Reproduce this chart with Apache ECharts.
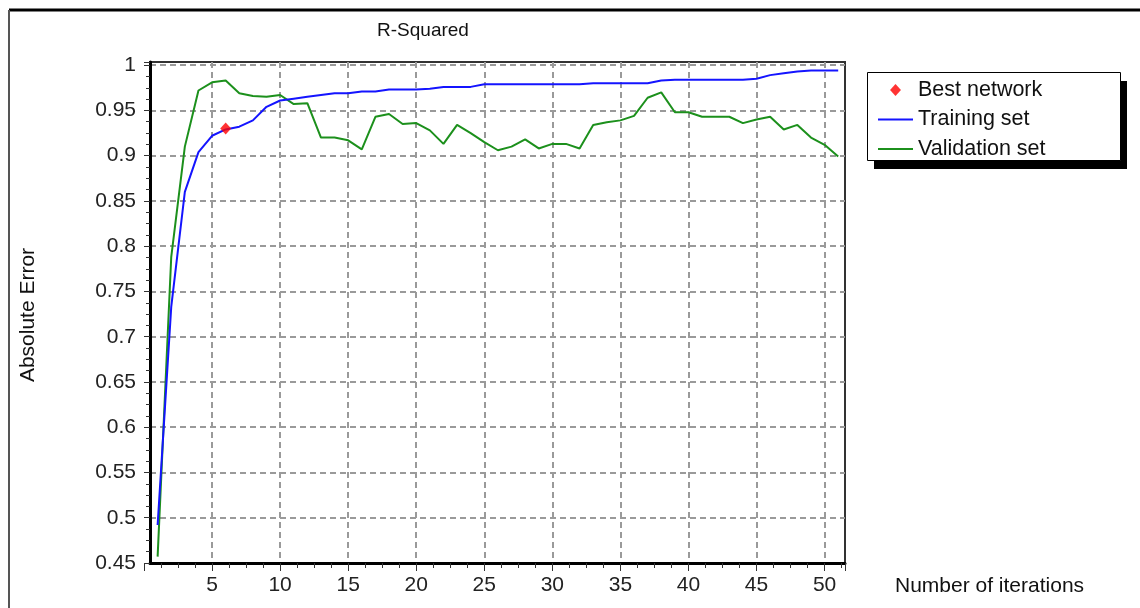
<!DOCTYPE html>
<html>
<head>
<meta charset="UTF-8">
<title>R-Squared</title>
<script src="https://cdn.jsdelivr.net/npm/echarts@6/dist/echarts.min.js"></script>
<style>
  html, body { margin: 0; padding: 0; background: #fff; }
  #chart { width: 1140px; height: 608px; }
</style>
</head>
<body>
<div id="chart"></div>
<script>
// iterations on the x axis
var iterations = [1, 2, 3, 4, 5, 6, 7, 8, 9, 10, 11, 12, 13, 14, 15, 16, 17, 18, 19, 20,
  21, 22, 23, 24, 25, 26, 27, 28, 29, 30, 31, 32, 33, 34, 35, 36, 37, 38, 39, 40,
  41, 42, 43, 44, 45, 46, 47, 48, 49, 50, 51];

// R-squared per iteration
var trainingSet = [0.492, 0.733, 0.860, 0.904, 0.922, 0.929, 0.932, 0.939, 0.954, 0.961,
  0.963, 0.965, 0.967, 0.969, 0.969, 0.971, 0.971, 0.973, 0.973, 0.973,
  0.974, 0.976, 0.976, 0.976, 0.979, 0.979, 0.979, 0.979, 0.979, 0.979,
  0.979, 0.979, 0.980, 0.980, 0.980, 0.980, 0.980, 0.983, 0.984, 0.984,
  0.984, 0.984, 0.984, 0.984, 0.985, 0.989, 0.991, 0.993, 0.994, 0.994, 0.994];

var validationSet = [0.457, 0.788, 0.910, 0.972, 0.981, 0.983, 0.969, 0.966, 0.965, 0.967,
  0.957, 0.958, 0.920, 0.920, 0.917, 0.907, 0.943, 0.946, 0.935, 0.936,
  0.928, 0.913, 0.934, 0.925, 0.915, 0.906, 0.910, 0.918, 0.908, 0.913,
  0.913, 0.908, 0.934, 0.937, 0.939, 0.944, 0.964, 0.970, 0.948, 0.948,
  0.943, 0.943, 0.943, 0.936, 0.940, 0.943, 0.929, 0.934, 0.920, 0.912, 0.899];

var bestIteration = 6;
var bestValue = 0.930;

var font = 'Liberation Sans, Arial, sans-serif';

var myChart = echarts.init(document.getElementById('chart'));

function pairs(values) {
  var out = [];
  for (var i = 0; i < iterations.length; i++) {
    out.push([iterations[i], values[i]]);
  }
  return out;
}

var gridLine = { color: '#9a9a9a', type: [6, 4], width: 2 };
// legend icons: a flat bar for the lines, a diamond for the best network
var lineIcon = 'path://M0,0h35v2h-35z';
var diamondIcon = 'path://M5,0L10,5.5L5,11L0,5.5Z';

myChart.setOption({
  animation: false,
  backgroundColor: '#fff',
  grid: [
    { left: 150, right: 295, top: 62, bottom: 45, show: true, borderColor: '#333', borderWidth: 2, backgroundColor: 'transparent' },
    { left: 144, right: 295, top: 62, bottom: 45 }
  ],
  xAxis: [
    {
      gridIndex: 0, type: 'value', min: 0.44, max: 51.5,
      axisLine: { lineStyle: { color: '#000', width: 3 } },
      axisTick: { show: false }, axisLabel: { show: false }, splitLine: { show: false }
    },
    {
      gridIndex: 1, type: 'value', min: 0, max: 51.5, interval: 5,
      axisLine: { show: false },
      axisTick: { length: 8, lineStyle: { color: '#333', width: 1 } },
      minorTick: { show: true, splitNumber: 4, length: 5, lineStyle: { color: '#333', width: 1 } },
      axisLabel: { margin: 12, fontSize: 21, fontFamily: font, color: '#222', showMinLabel: false, showMaxLabel: false },
      splitLine: { show: true, showMinLine: false, showMaxLine: false, lineStyle: gridLine }
    }
  ],
  yAxis: [
    {
      gridIndex: 0, type: 'value', min: 0.45, max: 1.0035, interval: 0.05,
      axisLine: { show: true, lineStyle: { color: '#000', width: 3 } },
      axisTick: { length: 6, lineStyle: { color: '#333', width: 1 } },
      minorTick: { show: true, splitNumber: 4, length: 4, lineStyle: { color: '#333', width: 1 } },
      axisLabel: { margin: 14, fontSize: 21, fontFamily: font, color: '#222', showMaxLabel: false },
      splitLine: { show: true, showMinLine: false, showMaxLine: false, lineStyle: gridLine }
    },
    { gridIndex: 1, type: 'value', min: 0.45, max: 1.0035, show: false }
  ],
  legend: {
    orient: 'vertical', left: 878, top: 79, z: 10, padding: 0,
    itemWidth: 35, itemHeight: 12, itemGap: 7.5,
    textStyle: { fontSize: 21.5, fontFamily: font, color: '#111', lineHeight: 22 },
    data: [
      { name: 'Best network', icon: diamondIcon },
      { name: 'Training set', icon: lineIcon },
      { name: 'Validation set', icon: lineIcon }
    ]
  },
  graphic: [
    { type: 'line', z: 0, shape: { x1: 9, y1: 10, x2: 1140, y2: 10 }, style: { stroke: '#000', lineWidth: 3 } },
    { type: 'line', z: 0, shape: { x1: 9, y1: 10, x2: 9, y2: 608 }, style: { stroke: '#555', lineWidth: 2 } },
    { type: 'rect', z: 1, shape: { x: 874, y: 81, width: 253, height: 88 }, style: { fill: '#000' } },
    { type: 'rect', z: 2, shape: { x: 867.5, y: 72.5, width: 253, height: 88 }, style: { fill: '#fff', stroke: '#000', lineWidth: 1 } },
    { type: 'text', x: 423, y: 31, style: { text: 'R-Squared', fontSize: 19, fontFamily: font, fill: '#111', align: 'center', verticalAlign: 'middle' } },
    { type: 'text', x: 28, y: 315, rotation: Math.PI / 2, style: { text: 'Absolute Error', fontSize: 21, fontFamily: font, fill: '#111', align: 'center', verticalAlign: 'middle' } },
    { type: 'text', x: 895, y: 586, style: { text: 'Number of iterations', fontSize: 21, fontFamily: font, fill: '#111', align: 'left', verticalAlign: 'middle' } }
  ],
  series: [
    {
      name: 'Best network', type: 'scatter', xAxisIndex: 0, yAxisIndex: 0, z: 5,
      symbol: 'diamond', symbolSize: [11, 12],
      itemStyle: { color: '#ff0000' },
      data: [[bestIteration, bestValue]]
    },
    {
      name: 'Training set', type: 'line', xAxisIndex: 0, yAxisIndex: 0, z: 3,
      symbol: 'none',
      lineStyle: { color: '#1414ff', width: 2 },
      itemStyle: { color: '#1414ff' },
      data: pairs(trainingSet)
    },
    {
      name: 'Validation set', type: 'line', xAxisIndex: 0, yAxisIndex: 0, z: 2,
      symbol: 'none',
      lineStyle: { color: '#1c901c', width: 2 },
      itemStyle: { color: '#1c901c' },
      data: pairs(validationSet)
    }
  ]
});
</script>
</body>
</html>
